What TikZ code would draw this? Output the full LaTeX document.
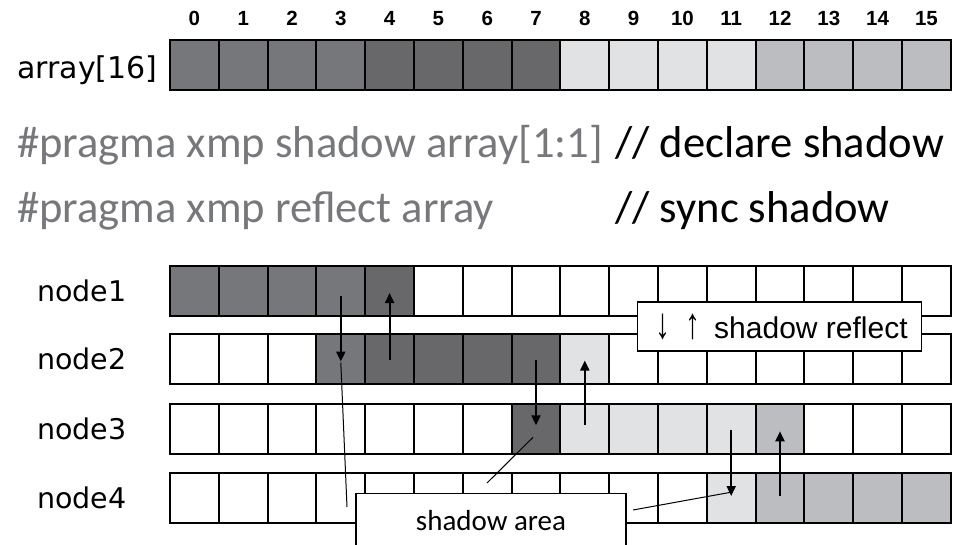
\documentclass[tikz,border=0pt]{standalone}
\usepackage{fontspec}
\setmainfont{Carlito}
\newfontfamily\labelfont{DejaVu Sans}
\newfontfamily\arialfont{Liberation Sans}
\usetikzlibrary{arrows.meta}

% cell fills
\definecolor{shA}{HTML}{76777A}
\definecolor{shB}{HTML}{68686A}
\definecolor{shL}{HTML}{E1E2E4}
\definecolor{shM}{HTML}{BCBDC0}
\colorlet{shW}{white}
\definecolor{codegray}{HTML}{77787B}

% one row of 16 cells: prefix, centre y, list of fills
\newcommand\cellrow[3]{%
  \foreach \c [count=\i from 0] in {#3} {
    \node[cell, fill=\c] (#1c\i) at (194.4+48.8*\i, #2) {};
  }%
}
% taller arrow glyphs for the legend
\newcommand\tallglyph[1]{\scalebox{1}[1.45]{#1}}

\begin{document}
\begin{tikzpicture}[x=1pt,y=-1pt,
  cell/.style={draw=black, line width=2pt, minimum width=48.8pt,
               minimum height=50pt, inner sep=0pt, outer sep=0pt},
  idx/.style={font=\arialfont\bfseries\fontsize{20.5}{22}\selectfont, inner sep=0pt, anchor=base},
  rowlabel/.style={font=\labelfont\fontsize{28.5}{32}\selectfont, inner sep=0pt},
  code/.style={font=\fontsize{44.6}{50}\selectfont, anchor=base west, inner sep=0pt},
  flow/.style={line width=2pt, -{Triangle[length=10pt,width=9pt]}},
  callout/.style={draw=black, line width=1pt},
  tag/.style={draw=black, line width=1.2pt, fill=white, inner sep=0pt}
]
\useasboundingbox (0,0) rectangle (964,544);
\clip (0,0) rectangle (964,544);

% global array with indices
\foreach \i in {0,...,15} {
  \node[idx] (idx\i) at (194.4+48.8*\i, 25) {\i};
}
\cellrow{r0}{65}{shA,shA,shA,shA,shB,shB,shB,shB,shL,shL,shL,shL,shM,shM,shM,shM}
\node[rowlabel, anchor=base west, font=\labelfont\fontsize{30}{32}\selectfont]
  (lblarr) at (17,78) {array[16]};

% directives
\node[code, text=codegray] (pragma1) at (17,157) {\#pragma xmp shadow array[1:1]};
\node[code] (comment1) at (615,157) {// declare shadow};
\node[code, text=codegray] (pragma2) at (17,222) {\#pragma xmp reflect array};
\node[code] (comment2) at (615,222) {// sync shadow};

% per-node local sections with shadows
\cellrow{r1}{291}{shA,shA,shA,shA,shB,shW,shW,shW,shW,shW,shW,shW,shW,shW,shW,shW}
\cellrow{r2}{358.5}{shW,shW,shW,shA,shB,shB,shB,shB,shL,shW,shW,shW,shW,shW,shW,shW}
\cellrow{r3}{429.3}{shW,shW,shW,shW,shW,shW,shW,shB,shL,shL,shL,shL,shM,shW,shW,shW}
\cellrow{r4}{498}{shW,shW,shW,shW,shW,shW,shW,shW,shW,shW,shW,shL,shM,shM,shM,shM}

\node[rowlabel, anchor=west] (lbl1) at (37,291) {node1};
\node[rowlabel, anchor=west] (lbl2) at (37,358.5) {node2};
\node[rowlabel, anchor=west] (lbl3) at (37,429.3) {node3};
\node[rowlabel, anchor=west] (lbl4) at (37,498) {node4};

% reflect transfers
\draw[flow] ([yshift=-5pt]r1c3.center) -- ([yshift=-3pt]r2c3.center);
\draw[flow] ([yshift=-1pt]r2c4.center) -- ([yshift=-2pt]r1c4.center);
\draw[flow] ([yshift=-1pt]r2c7.center) -- ([yshift=4pt]r3c7.center);
\draw[flow] ([yshift=4pt]r3c8.center) -- ([yshift=-2pt]r2c8.center);
\draw[flow] ([yshift=-1pt]r3c11.center) -- ([yshift=2pt]r4c11.center);
\draw[flow] ([yshift=2pt]r4c12.center) -- ([yshift=-2pt]r3c12.center);

% callout lines to the shadow cells
\coordinate (sa1) at (347,507);
\coordinate (sa2) at (487,483);
\coordinate (sa3) at (633,510);
\draw[callout] (sa1) -- ([yshift=-4pt]r2c3.center);
\draw[callout] (sa2) -- ([shift={(-3pt,-8pt)}]r3c7.center);
\draw[callout] (sa3) -- ([shift={(1pt,6pt)}]r4c11.center);

% legend boxes
\node[tag, minimum width=284pt, minimum height=49pt,
      font=\arialfont\fontsize{30}{32}\selectfont] (reflect) at (779.7,326.5)
      {\hspace{4pt}\tallglyph{↓}\hspace{0.5em}\tallglyph{↑}\hspace{0.45em}shadow reflect};
\node[tag, minimum width=270pt, minimum height=54pt, anchor=north,
      font=\fontsize{29}{32}\selectfont] (sarea) at (491,492.7) {shadow area};
\end{tikzpicture}
\end{document}
